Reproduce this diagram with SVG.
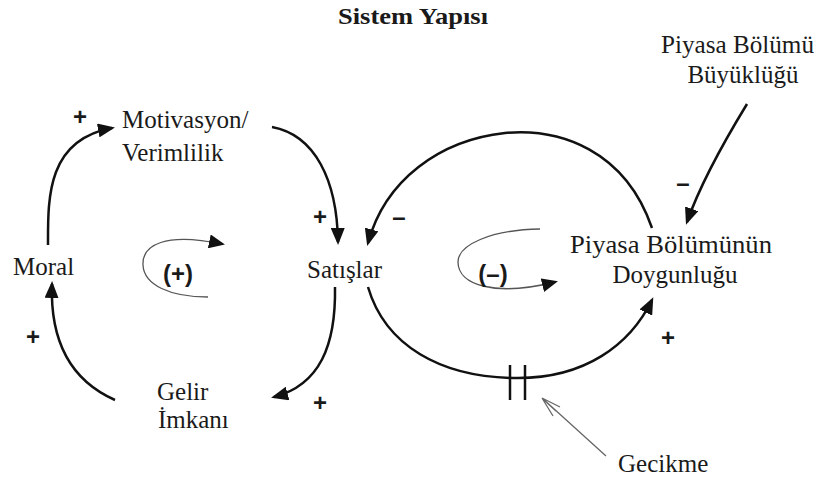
<svg xmlns="http://www.w3.org/2000/svg" width="825" height="481" viewBox="0 0 825 481">
<style>
.lbl{font-family:"Liberation Serif","Times New Roman",serif;font-size:25px;fill:#1a1a1a}
.ttl{font-family:"Liberation Serif","Times New Roman",serif;font-size:23px;font-weight:bold;fill:#1a1a1a}
.sgn{font-family:"Liberation Sans",Arial,sans-serif;font-size:24px;font-weight:bold;fill:#1a1a1a}
.loopl{font-family:"Liberation Sans",Arial,sans-serif;font-size:24px;font-weight:bold;fill:#1a1a1a}
.link{fill:none;stroke:#111;stroke-width:2.5;marker-end:url(#ah)}
.loop{fill:none;stroke:#555;stroke-width:1.3;marker-end:url(#ah2)}
.delay{stroke:#111;stroke-width:2.5}
.note{fill:none;stroke:#666;stroke-width:1.3}
</style>
<defs>
<marker id="ah" markerUnits="userSpaceOnUse" markerWidth="18" markerHeight="14" refX="14" refY="7" orient="auto">
<path d="M0,0 L17,7 L0,14 z" fill="#111"/>
</marker>
<marker id="ah2" markerUnits="userSpaceOnUse" markerWidth="18" markerHeight="14" refX="13" refY="7" orient="auto">
<path d="M0,0 L16,7 L0,14 z" fill="#111"/>
</marker>
</defs>
<rect width="825" height="481" fill="#fff"/>
<text class="ttl" x="413" y="24" text-anchor="middle" textLength="150" lengthAdjust="spacingAndGlyphs">Sistem Yapısı</text>

<g id="connectors">
<path class="link" d="M48,245 C48,200 46,140 112,128"/>
<path class="link" d="M272,127 C315,135 337,180 338,242"/>
<path class="link" d="M335,287 C336,345 320,385 274,397"/>
<path class="link" d="M115,400 C70,380 50,340 52,284"/>
<path class="link" d="M652,228 C625,150 560,128 505,133 C440,140 385,180 368,243"/>
<path class="link" d="M368,287 C385,345 440,378 518,378 C585,378 630,345 652,300"/>
<path class="link" d="M747,104 C725,140 700,185 687,222"/>
<line class="delay" x1="510" y1="365" x2="510" y2="400"/>
<line class="delay" x1="525" y1="365" x2="525" y2="400"/>
<path class="note" d="M606,456 L542,398 M542,398 L553,416 M542,398 L560,407 M544,400 L556,411"/>
<path class="loop" d="M208,297 C170,297 144,285 143,265 C142,245 165,232 222,244"/>
<path class="loop" d="M540,229 C490,230 458,245 458,262 C458,285 495,297 555,282"/>
</g>

<g id="signs">
<text class="sgn" x="80" y="125" text-anchor="middle">+</text>
<text class="sgn" x="320" y="225" text-anchor="middle">+</text>
<text class="sgn" x="399" y="225" text-anchor="middle">–</text>
<text class="sgn" x="33" y="345" text-anchor="middle">+</text>
<text class="sgn" x="320" y="411" text-anchor="middle">+</text>
<text class="sgn" x="683" y="191" text-anchor="middle">–</text>
<text class="sgn" x="668" y="346" text-anchor="middle">+</text>
<text class="loopl" x="178" y="282" text-anchor="middle">(+)</text>
<text class="loopl" x="493" y="282" text-anchor="middle">(–)</text>
</g>

<g id="motivasyon">
<text class="lbl" x="122" y="128">Motivasyon/</text>
<text class="lbl" x="122" y="161">Verimlilik</text>
</g>
<g id="moral">
<text class="lbl" x="13" y="275">Moral</text>
</g>
<g id="satislar">
<text class="lbl" x="307" y="278">Satışlar</text>
</g>
<g id="gelir">
<text class="lbl" x="157" y="400">Gelir</text>
<text class="lbl" x="158" y="428">İmkanı</text>
</g>
<g id="doygunluk">
<text class="lbl" x="570" y="253" textLength="202" lengthAdjust="spacingAndGlyphs">Piyasa Bölümünün</text>
<text class="lbl" x="675" y="283" text-anchor="middle">Doygunluğu</text>
</g>
<g id="buyukluk">
<text class="lbl" x="661" y="53" textLength="153" lengthAdjust="spacingAndGlyphs">Piyasa Bölümü</text>
<text class="lbl" x="743" y="83" text-anchor="middle">Büyüklüğü</text>
</g>
<g id="gecikme">
<text class="lbl" x="618" y="472">Gecikme</text>
</g>
</svg>
